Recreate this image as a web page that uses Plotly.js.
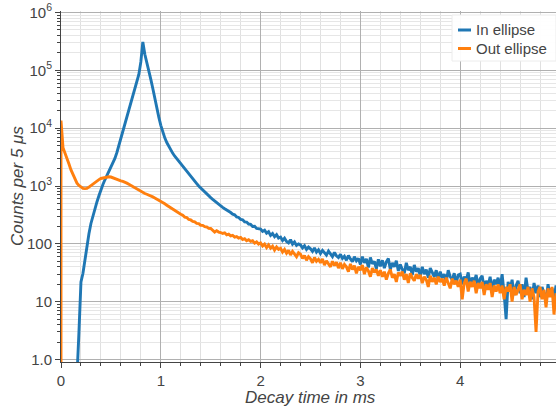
<!DOCTYPE html>
<html>
<head>
<meta charset="utf-8">
<script src="https://cdn.plot.ly/plotly-3.0.1.min.js"></script>
<style>html,body{margin:0;padding:0;background:#fff;}#chart{width:556px;height:407px;}</style>
</head>
<body>
<div id="chart"></div>
<script>
// Sampling step of the plotted series (ms)
const BIN_MS = 0.02;

const seriesNames = ['In ellipse', 'Out ellipse'];
const seriesColors = ['#1f77b4', '#ff7f0e'];

// Counts per bin, "In ellipse" (t = 0, 0.02, 0.04, ... ms)
const inCounts = [
  0, 0, 0, 0, 0, 0, 0, 0, 0.5, 3,
  22, 31, 55, 95, 150, 225, 310, 410, 530, 680,
  870, 1060, 1280, 1520, 1780, 2080, 2450, 3000, 3800, 5000,
  7000, 9500, 12500, 16500, 21500, 28000, 36000, 47000, 62000, 85000,
  140000, 310000, 190000, 140000, 100000, 70000, 48500, 32000, 22000, 15500,
  11200, 8500, 6800, 5650, 4800, 4170, 3670, 3270, 2950, 2660,
  2400, 2160, 1950, 1760, 1585, 1445, 1320, 1200, 1100, 1000,
  920, 850, 785, 725, 675, 630, 590, 550, 513, 480,
  450, 428, 405, 388, 360, 348, 326, 318, 292, 286,
  265, 261, 240, 238, 220, 218, 200, 201, 185, 184,
  180, 164, 172, 153, 162, 140, 151, 133, 144, 126,
  131, 114, 125, 110, 104, 118, 99, 108, 94, 100,
  96, 85, 93, 80, 88, 82, 74, 85, 72, 79,
  68, 77, 70, 64, 75, 66, 60, 71, 62, 58,
  66, 56, 61, 52, 63, 55, 49, 60, 51, 56,
  44, 60, 47, 55, 39, 58, 45, 50, 37, 54,
  41, 52, 38, 49, 56, 36, 47, 40, 51, 34,
  44, 36, 31, 47, 35, 40, 29, 43, 33, 38,
  28, 40, 30, 36, 26, 38, 31, 27, 35, 24,
  33, 26, 30, 22, 35, 27, 24, 31, 21, 29,
  30, 20, 27, 23, 32, 19, 26, 22, 29, 18,
  25, 28, 17, 23, 19, 27, 15, 24, 20, 26,
  17, 30, 14, 5, 22, 16, 24, 13, 19, 23,
  14, 20, 12, 26, 15, 18, 11, 21, 14, 19,
  12, 18, 14, 10, 20, 13, 17, 11, 19, 14
];

// Counts per bin, "Out ellipse" (first entry: empty edge at t = 0, then t = 0, 0.02, ... ms)
const outCounts = [
  0.5, 13500, 4600, 3800, 3000, 2400, 1900, 1550, 1290, 1120,
  1020, 955, 912, 900, 912, 955, 1020, 1100, 1175, 1230,
  1290, 1350, 1380, 1410, 1430, 1445, 1430, 1380, 1350, 1320,
  1260, 1230, 1200, 1175, 1120, 1070, 1020, 977, 933, 870,
  832, 794, 770, 741, 720, 700, 676, 649, 622, 597,
  573, 550, 520, 492, 466, 441, 417, 396, 377, 358,
  340, 324, 312, 290, 285, 264, 259, 245, 241, 226,
  224, 210, 209, 198, 196, 185, 184, 172, 160, 169,
  160, 157, 151, 155, 143, 147, 137, 140, 131, 134,
  126, 129, 119, 123, 113, 118, 110, 113, 103, 108,
  99, 104, 92, 99, 86, 96, 84, 91, 78, 88,
  80, 84, 72, 80, 69, 77, 64, 74, 67, 60,
  70, 66, 56, 63, 52, 60, 55, 47, 58, 50,
  54, 47, 55, 43, 51, 46, 40, 50, 42, 48,
  38, 47, 37, 44, 40, 33, 45, 36, 42, 31,
  40, 35, 43, 30, 39, 34, 27, 38, 32, 36,
  28, 35, 27, 33, 24, 31, 36, 26, 30, 22,
  32, 28, 33, 24, 30, 21, 31, 26, 23, 30,
  25, 29, 21, 27, 24, 18, 28, 22, 26, 20,
  27, 22, 25, 19, 26, 21, 17, 25, 20, 23,
  18, 24, 11, 21, 25, 15, 22, 18, 23, 14,
  21, 17, 22, 13, 20, 16, 21, 12, 19, 15,
  20, 14, 19, 11, 18, 15, 20, 10, 18, 13,
  17, 20, 11, 16, 13, 18, 10, 17, 12, 3,
  15, 18, 11, 16, 8, 17, 12, 18, 6, 14
];

const xTickVals = [0, 1, 2, 3, 4];
const xTickText = ['0', '1', '2', '3', '4'];
const yTickVals = [1, 10, 100, 1000, 10000, 100000, 1000000];
const yTickText = ['1.0', '10', '100', '10<sup>3</sup>', '10<sup>4</sup>', '10<sup>5</sup>', '10<sup>6</sup>'];
const xTitle = 'Decay time in ms';
const yTitle = 'Counts per 5 μs';

// sample times
const inTimes = inCounts.map((_, i) => i * BIN_MS);
const outTimes = outCounts.map((_, i) => Math.max(0, i - 1) * BIN_MS);

// minor tick positions on log axis (2..9 per decade)
const yMinor = [];
for (let d = 0; d < 6; d++) for (let m = 2; m <= 9; m++) yMinor.push(m * Math.pow(10, d));

const FONT = 'Liberation Sans, Arial, Helvetica, sans-serif';
const TXT = '#444444';

const traces = [
  {x: inTimes, y: inCounts, name: seriesNames[0], type: 'scatter', mode: 'lines',
   line: {color: seriesColors[0], width: 2.9}, showlegend: false},
  {x: outTimes, y: outCounts, name: seriesNames[1], type: 'scatter', mode: 'lines',
   line: {color: seriesColors[1], width: 2.9}, showlegend: false}
];

// plot area in pixels: left 61, right 556, top 11, bottom 362
const L = 61, R = 556, T = 11, B = 362;
const px = v => (v - L) / (R - L);
const py = v => (B - v) / (B - T);

const layout = {
  width: 556, height: 407,
  margin: {l: L, r: 556 - R, t: T, b: 407 - B, pad: 0},
  paper_bgcolor: '#ffffff', plot_bgcolor: '#ffffff',
  font: {family: FONT, size: 15, color: TXT},
  showlegend: false,
  xaxis: {
    range: [0, 4.96], tickmode: 'array', tickvals: xTickVals, ticktext: xTickText,
    ticks: 'outside', ticklen: 5, tickwidth: 1, tickcolor: '#444',
    showline: true, linecolor: '#444', linewidth: 1,
    showgrid: true, gridcolor: '#b0b0b0', gridwidth: 1, zeroline: false,
    tickfont: {size: 15, color: TXT, family: FONT},
    minor: {dtick: 0.2, tick0: 0, ticks: 'outside', ticklen: 3, tickcolor: '#444',
            showgrid: true, gridcolor: '#e0e0e0', gridwidth: 1}
  },
  yaxis: {
    type: 'log', range: [-0.043, 6.026], tickmode: 'array', tickvals: yTickVals, ticktext: yTickText,
    ticks: 'outside', ticklen: 5, tickwidth: 1, tickcolor: '#444',
    showline: true, linecolor: '#444', linewidth: 1,
    showgrid: true, gridcolor: '#b0b0b0', gridwidth: 1, zeroline: false,
    tickfont: {size: 15, color: TXT, family: FONT},
    minor: {tickmode: 'array', tickvals: yMinor, ticks: 'outside', ticklen: 3, tickcolor: '#444',
            showgrid: true, gridcolor: '#e6e6e6', gridwidth: 1}
  },
  shapes: [
    {type: 'rect', xref: 'paper', yref: 'paper', x0: px(452), x1: px(556), y0: py(61), y1: py(15),
     fillcolor: 'rgba(255,255,255,0.95)', line: {color: '#ececec', width: 1}, layer: 'above'},
    {type: 'line', xref: 'paper', yref: 'paper', x0: px(458), x1: px(471), y0: py(30), y1: py(30),
     line: {color: seriesColors[0], width: 3}, layer: 'above'},
    {type: 'line', xref: 'paper', yref: 'paper', x0: px(458), x1: px(471), y0: py(48.5), y1: py(48.5),
     line: {color: seriesColors[1], width: 3}, layer: 'above'}
  ],
  annotations: [
    {xref: 'paper', yref: 'paper', x: px(474), y: py(30), xanchor: 'left', yanchor: 'middle',
     text: seriesNames[0], showarrow: false, font: {size: 15, color: TXT, family: FONT}},
    {xref: 'paper', yref: 'paper', x: px(474), y: py(48.5), xanchor: 'left', yanchor: 'middle',
     text: seriesNames[1], showarrow: false, font: {size: 15, color: TXT, family: FONT}},
    {xref: 'paper', yref: 'paper', x: px(310), y: py(397), xanchor: 'center', yanchor: 'middle',
     text: '<i>' + xTitle + '</i>', showarrow: false, font: {size: 17, color: TXT, family: FONT}},
    {xref: 'paper', yref: 'paper', x: px(17), y: py(186), xanchor: 'center', yanchor: 'middle',
     text: '<i>' + yTitle + '</i>', textangle: -90, showarrow: false, font: {size: 17, color: TXT, family: FONT}}
  ]
};

Plotly.newPlot('chart', traces, layout, {displayModeBar: false, staticPlot: true});
</script>
</body>
</html>
